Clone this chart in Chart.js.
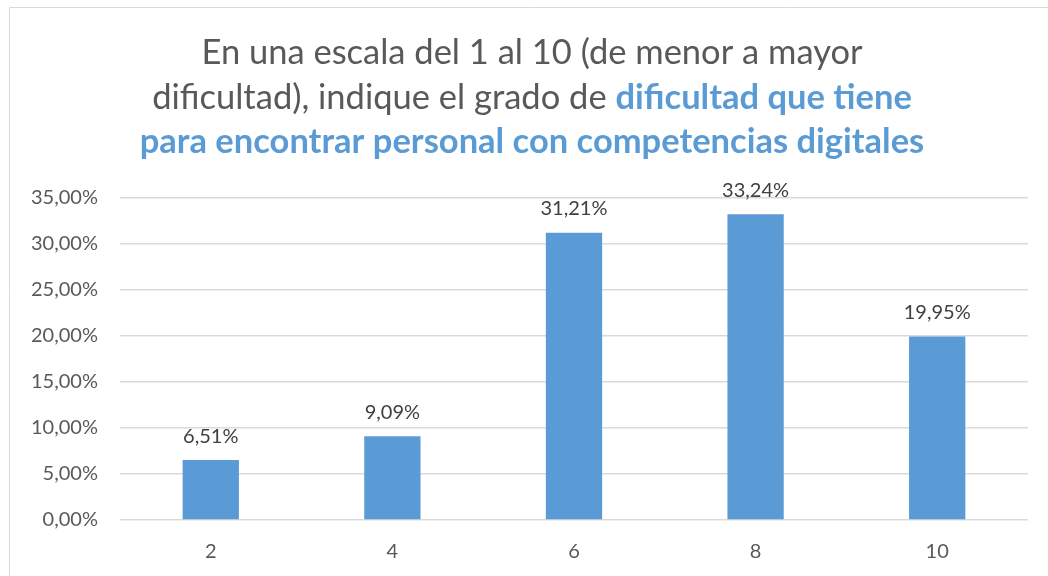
<!DOCTYPE html>
<html>
<head>
<meta charset="utf-8">
<script src="https://cdn.jsdelivr.net/npm/chart.js@4.4.0/dist/chart.umd.min.js"></script>
<style>
  html, body { margin: 0; padding: 0; background: #fff; }
  #wrap { width: 1048px; height: 576px; position: relative; }
</style>
</head>
<body>
<div id="wrap"><canvas id="chart" width="1048" height="576"></canvas></div>
<script>
// scale values (1 to 10) shown on the x axis
const categories = ['2', '4', '6', '8', '10'];
// share of answers for each value, in percent
const percentages = [6.51, 9.09, 31.21, 33.24, 19.95];
// y axis range
const yMax = 35;
const yStep = 5;

const GRAY = '#595959';
const BLUE = '#5b9bd5';
const FONT = 'Lato, "Open Sans", sans-serif';

// title has two colours so it is drawn by hand
const titleLines = [
  [{ text: 'En una escala del 1 al 10 (de menor a mayor', color: GRAY, bold: false }],
  [{ text: 'dificultad), indique el grado de ', color: GRAY, bold: false },
   { text: 'dificultad que tiene', color: BLUE, bold: true }],
  [{ text: 'para encontrar personal con competencias digitales', color: BLUE, bold: true }],
];

const fmt = v => v.toFixed(2).replace('.', ',') + '%';

const titlePlugin = {
  id: 'richTitle',
  afterDraw(chart) {
    const ctx = chart.ctx;
    ctx.save();
    // light frame around the chart
    ctx.strokeStyle = '#d9d9d9';
    ctx.lineWidth = 1;
    ctx.beginPath();
    ctx.moveTo(9.5, 576);
    ctx.lineTo(9.5, 7.5);
    ctx.lineTo(1048, 7.5);
    ctx.stroke();

    ctx.textBaseline = 'alphabetic';
    const size = 34.5;
    const baselines = [64, 109, 153];
    titleLines.forEach((runs, i) => {
      let total = 0;
      runs.forEach(r => {
        ctx.font = (r.bold ? 'bold ' : '') + size + 'px ' + FONT;
        r.w = ctx.measureText(r.text).width;
        total += r.w;
      });
      let x = 532 - total / 2;
      runs.forEach(r => {
        ctx.font = (r.bold ? 'bold ' : '') + size + 'px ' + FONT;
        ctx.fillStyle = r.color;
        ctx.textAlign = 'left';
        ctx.fillText(r.text, x, baselines[i]);
        x += r.w;
      });
    });
    ctx.restore();
  }
};

const valueLabels = {
  id: 'valueLabels',
  afterDatasetsDraw(chart) {
    const ctx = chart.ctx;
    const meta = chart.getDatasetMeta(0);
    ctx.save();
    ctx.font = '20px ' + FONT;
    ctx.fillStyle = '#404040';
    ctx.textAlign = 'center';
    ctx.textBaseline = 'bottom';
    meta.data.forEach((bar, i) => {
      ctx.fillText(fmt(percentages[i]), bar.x, bar.y - 14);
    });
    ctx.restore();
  }
};

new Chart(document.getElementById('chart'), {
  type: 'bar',
  data: {
    labels: categories,
    datasets: [{
      data: percentages,
      backgroundColor: BLUE,
      barPercentage: 0.62,
      categoryPercentage: 0.5,
    }]
  },
  options: {
    responsive: false,
    animation: false,
    layout: { padding: { top: 198, left: 9, right: 20, bottom: -8 } },
    plugins: {
      legend: { display: false },
      title: { display: false },
      tooltip: { enabled: false },
    },
    scales: {
      x: {
        grid: { display: false, drawTicks: false },
        border: { display: false },
        ticks: { color: GRAY, font: { family: FONT, size: 20 }, padding: 20 },
      },
      y: {
        min: 0,
        max: yMax,
        border: { display: false },
        grid: { color: '#d9d9d9', lineWidth: 1.5, drawTicks: false },
        ticks: {
          stepSize: yStep,
          color: GRAY,
          font: { family: FONT, size: 20 },
          padding: 22,
          callback: v => fmt(v),
        },
      },
    },
  },
  plugins: [titlePlugin, valueLabels],
});
</script>
</body>
</html>
